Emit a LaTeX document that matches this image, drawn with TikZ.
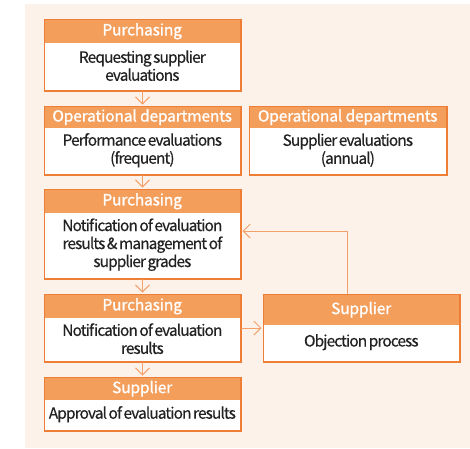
\documentclass[tikz,border=0pt]{standalone}
\usepackage{fontspec}
\setmainfont{Noto Sans CJK KR}
\newfontfamily\headfont[FakeBold=1.2,LetterSpace=-1]{Noto Sans CJK KR}
\newfontfamily\bodyfont[FakeBold=0.4,LetterSpace=-6,WordSpace=0.6]{Noto Sans CJK KR}
\usetikzlibrary{arrows.meta,calc}
\definecolor{bgc}{HTML}{FDF2E9}
\definecolor{hdc}{HTML}{F49E5C}
\definecolor{bdc}{HTML}{EE7D35}
\definecolor{lnc}{HTML}{F4A06A}
\definecolor{txc}{HTML}{222222}
\tikzset{
  frame/.style={draw=bdc, line width=1pt, fill=white, anchor=north west, inner sep=0pt},
  headbox/.style={fill=hdc, anchor=north west, inner sep=0pt, text=white,
    font=\headfont\fontsize{15.5}{17}\selectfont},
  bodytext/.style={text=txc, align=center, inner sep=0pt, yshift=1.5pt,
    font=\bodyfont\fontsize{15.5}{18}\selectfont},
  flow/.style={draw=lnc, line width=1pt, -{Straight Barb[length=7pt,width=14pt]}, shorten >=1.5pt},
}
% name, x, y, width, total height, header height, header, body
\newcommand{\flowbox}[8]{%
  \node[frame, minimum width=#4pt, minimum height=#5pt] (#1) at (#2pt,-#3pt) {};
  \node[headbox, minimum width=#4pt, minimum height=#6pt] (#1-h) at (#2pt,-#3pt) {#7};
  \draw[bdc, line width=1pt] (#1.north west) rectangle (#1.south east);
  \node[bodytext] (#1-b) at ($(#1-h.south)!0.5!(#1.south)$) {#8};
}
\begin{document}
\begin{tikzpicture}[x=1pt,y=1pt]
\useasboundingbox (0,0) rectangle (470,-448);
\fill[bgc] (25,-4) rectangle (470,-448);
\flowbox{b1}{44}{19}{196}{71}{24}{Purchasing}{Requesting supplier\\evaluations}
\flowbox{b2}{44}{106}{196}{68}{22}{Operational departments}{Performance evaluations\\(frequent)}
\flowbox{b2r}{249}{106}{197}{68}{22}{Operational departments}{Supplier evaluations\\(annual)}
\flowbox{b3}{44}{189}{196}{89}{24}{Purchasing}{Notification of evaluation\\results \& management of\\supplier grades}
\flowbox{b4}{44}{294}{196}{67}{24}{Purchasing}{Notification of evaluation\\results}
\flowbox{b5}{263}{294}{196}{67}{31}{Supplier}{Objection process}
\flowbox{b6}{44}{377}{196}{53}{23}{Supplier}{Approval of evaluation results}
\draw[flow] (b1.south) -- (b2.north);
\draw[flow] (b2.south) -- (b3.north);
\draw[flow] (b3.south) -- (b4.north);
\draw[flow] (b4.south) -- (b6.north);
\draw[flow] (b4.east |- 0,-328) -- (b5.west |- 0,-328);
\coordinate (turn) at (347,-231);
\draw[flow] (b5.north -| turn) -- (turn) -- (b3.east |- turn);
\end{tikzpicture}
\end{document}
